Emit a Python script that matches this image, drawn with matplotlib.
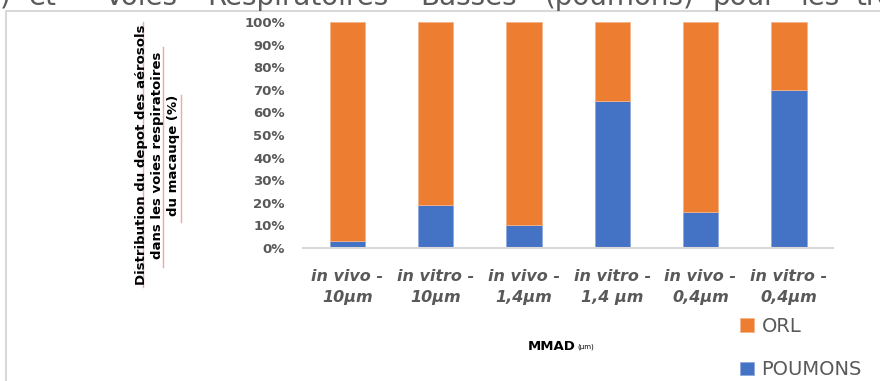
import matplotlib

matplotlib.use("Agg")
import matplotlib.pyplot as plt
from matplotlib.lines import Line2D
from matplotlib.patches import Rectangle
from matplotlib.ticker import PercentFormatter

# data
categories = [
    "in vivo -\n10µm",
    "in vitro -\n10µm",
    "in vivo -\n1,4µm",
    "in vitro -\n1,4 µm",
    "in vivo -\n0,4µm",
    "in vitro -\n0,4µm",
]
poumons = [3, 19, 10, 65, 16, 70]
orl = [100 - v for v in poumons]

ORANGE = "#ED7D31"
BLUE = "#4472C4"
GREY_TEXT = "#595959"
GREY_LINE = "#D9D9D9"

W, H = 880, 381
plt.rcParams["font.family"] = ["DejaVu Sans"]

fig = plt.figure(figsize=(W / 100, H / 100), dpi=100)
ax = fig.add_axes([303 / W, 1 - 248 / H, (833 - 303) / W, (248 - 22) / H])

x = list(range(len(categories)))
b1 = ax.bar(x, poumons, width=0.4, color=BLUE, edgecolor="#8fa9dc", linewidth=0.6, label="POUMONS")
b2 = ax.bar(x, orl, width=0.4, bottom=poumons, color=ORANGE, edgecolor="#f5b48a", linewidth=0.6, label="ORL")

ax.set_xlim(-0.5, len(categories) - 0.5)
ax.set_ylim(0, 100)
ax.set_yticks(range(0, 101, 10))
ax.yaxis.set_major_formatter(PercentFormatter(100, decimals=0))
ax.set_xticks(x)
ax.set_xticklabels(categories, fontstyle="italic", fontweight="bold", fontsize=11.5,
                   color=GREY_TEXT, linespacing=1.5)
for lbl in ax.get_yticklabels():
    lbl.set_fontweight("bold")
    lbl.set_fontsize(9.5)
    lbl.set_color(GREY_TEXT)
ax.tick_params(axis="y", length=0, pad=13)
ax.tick_params(axis="x", length=0, pad=15)
for side in ["top", "right", "left"]:
    ax.spines[side].set_visible(False)
ax.spines["bottom"].set_color(GREY_LINE)
ax.spines["bottom"].set_linewidth(1.5)

# y axis title (three lines, rotated)
fig.text(157 / W, 1 - 155 / H,
         "Distribution du depot des aérosols\ndans les voies respiratoires\ndu macauqe (%)",
         rotation=90, ha="center", va="center", fontsize=9.5, fontweight="bold",
         multialignment="center", linespacing=1.3)
# spell-check underlines
for xs, y0, y1 in [(143, 22, 287), (163, 47, 267), (181, 95, 222)]:
    fig.add_artist(Line2D([xs / W, xs / W], [1 - y0 / H, 1 - y1 / H],
                          transform=fig.transFigure, color="#f4a6a6", linewidth=1))

# x axis title with tiny unit
fig.text(528 / W, 1 - 346 / H, "MMAD", ha="left", va="center", fontsize=9.5, fontweight="bold")
fig.text(577 / W, 1 - 347 / H, "(µm)", ha="left", va="center", fontsize=5)

# legend
fig.legend(handles=[b2, b1], labels=["ORL", "POUMONS"], loc="upper left",
           bbox_to_anchor=(740 / W, 1 - 317 / H), frameon=False, fontsize=14,
           labelcolor=GREY_TEXT, handlelength=0.7, handleheight=0.7,
           handletextpad=0.4, labelspacing=1.25, borderpad=0, borderaxespad=0)

# frame of the embedded chart
fig.add_artist(Rectangle((6 / W, -0.1), 1.2, 1 - 11 / H + 0.1, transform=fig.transFigure,
                         fill=False, edgecolor=GREY_LINE, linewidth=1.5))

# cut-off line of the surrounding document text
words = [(")", 0), ("et", 28), ("Voies", 105), ("Respiratoires", 207), ("Basses", 420),
         ("(poumons)", 545), ("pour", 712), ("les", 800), ("tro", 855)]
for word, px in words:
    fig.text(px / W, 1 - 5 / H, word, ha="left", va="baseline", fontsize=20, color="#5a5a5a")

fig.savefig("out.png", dpi=100)
